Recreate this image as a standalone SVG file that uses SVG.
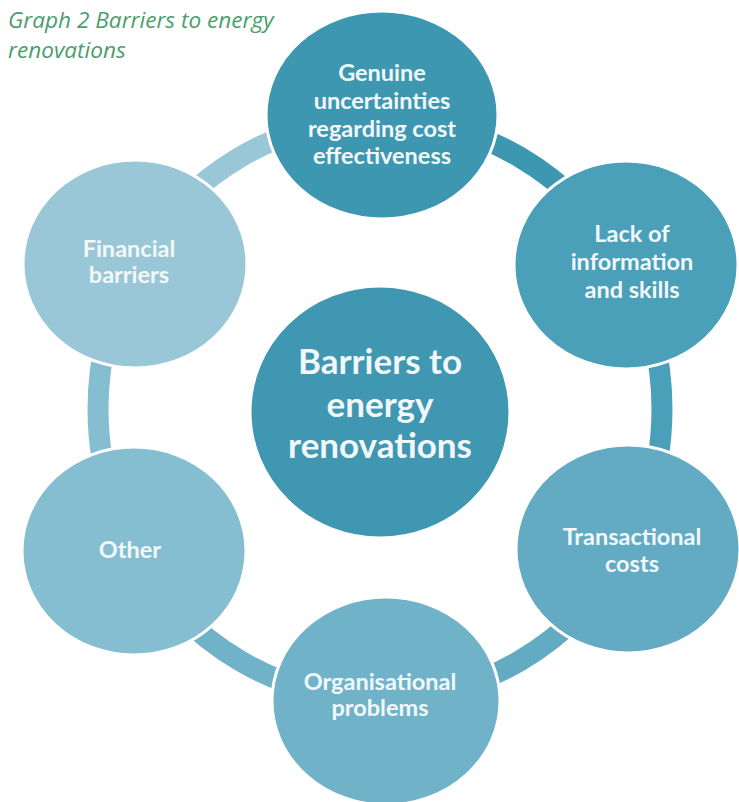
<svg xmlns="http://www.w3.org/2000/svg" width="739" height="802" viewBox="0 0 739 802">
<style>
.title{font-family:"Open Sans","Liberation Sans",sans-serif;font-style:italic;font-size:22.6px;fill:#4b9e6c}
.lbl{font-family:Lato,"Liberation Sans",sans-serif;font-weight:bold;font-size:23.5px;fill:#f2f8fa;text-anchor:middle}
.big{font-size:35px}
.node{stroke:#ffffff;stroke-width:3}
.arc{fill:none;stroke-width:21}
</style>
<rect width="739" height="802" fill="#ffffff"/>
<text class="title" x="8" y="28">Graph 2 Barriers to energy</text>
<text class="title" x="8" y="58">renovations</text>
<g id="connectors">
<path class="arc" stroke="#9ac7d7" d="M135.8,264 A282,290 0 0 1 380,119"/>
<path class="arc" stroke="#3e97b0" d="M380,119 A282,290 0 0 1 624.2,264"/>
<path class="arc" stroke="#4a9fb9" d="M624.2,264 A282,290 0 0 1 624.2,554"/>
<path class="arc" stroke="#62abc3" d="M624.2,554 A282,290 0 0 1 380,699"/>
<path class="arc" stroke="#70b3c9" d="M380,699 A282,290 0 0 1 135.8,554"/>
<path class="arc" stroke="#85bed1" d="M135.8,554 A282,290 0 0 1 135.8,264"/>
</g>
<g id="center">
<ellipse class="node" cx="380" cy="412" rx="130" ry="126" fill="#3f97b1"/>
<text class="lbl big" x="380" y="374">Barriers to</text>
<text class="lbl big" x="380" y="417">energy</text>
<text class="lbl big" x="380" y="458">renovations</text>
</g>
<g id="genuine">
<ellipse class="node" cx="382" cy="115" rx="116" ry="104" fill="#3e97b0"/>
<text class="lbl" x="382" y="81">Genuine</text>
<text class="lbl" x="382" y="109">uncertainties</text>
<text class="lbl" x="382" y="137">regarding cost</text>
<text class="lbl" x="382" y="164">effectiveness</text>
</g>
<g id="lack">
<ellipse class="node" cx="626" cy="265" rx="112" ry="104" fill="#4a9fb9"/>
<text class="lbl" x="632" y="242">Lack of</text>
<text class="lbl" x="632" y="270">information</text>
<text class="lbl" x="632" y="298">and skills</text>
</g>
<g id="transactional">
<ellipse class="node" cx="628" cy="549" rx="112" ry="104" fill="#62abc3"/>
<text class="lbl" x="632" y="545">Transactional</text>
<text class="lbl" x="632" y="572">costs</text>
</g>
<g id="organisational">
<ellipse class="node" cx="386" cy="701" rx="114" ry="104" fill="#70b3c9"/>
<text class="lbl" x="380" y="690">Organisational</text>
<text class="lbl" x="380" y="716">problems</text>
</g>
<g id="other">
<ellipse class="node" cx="134" cy="551" rx="112" ry="104" fill="#85bed1"/>
<text class="lbl" x="130" y="558">Other</text>
</g>
<g id="financial">
<ellipse class="node" cx="135" cy="264" rx="112" ry="104" fill="#9ac7d7"/>
<text class="lbl" x="129" y="257">Financial</text>
<text class="lbl" x="129" y="283">barriers</text>
</g>
</svg>
